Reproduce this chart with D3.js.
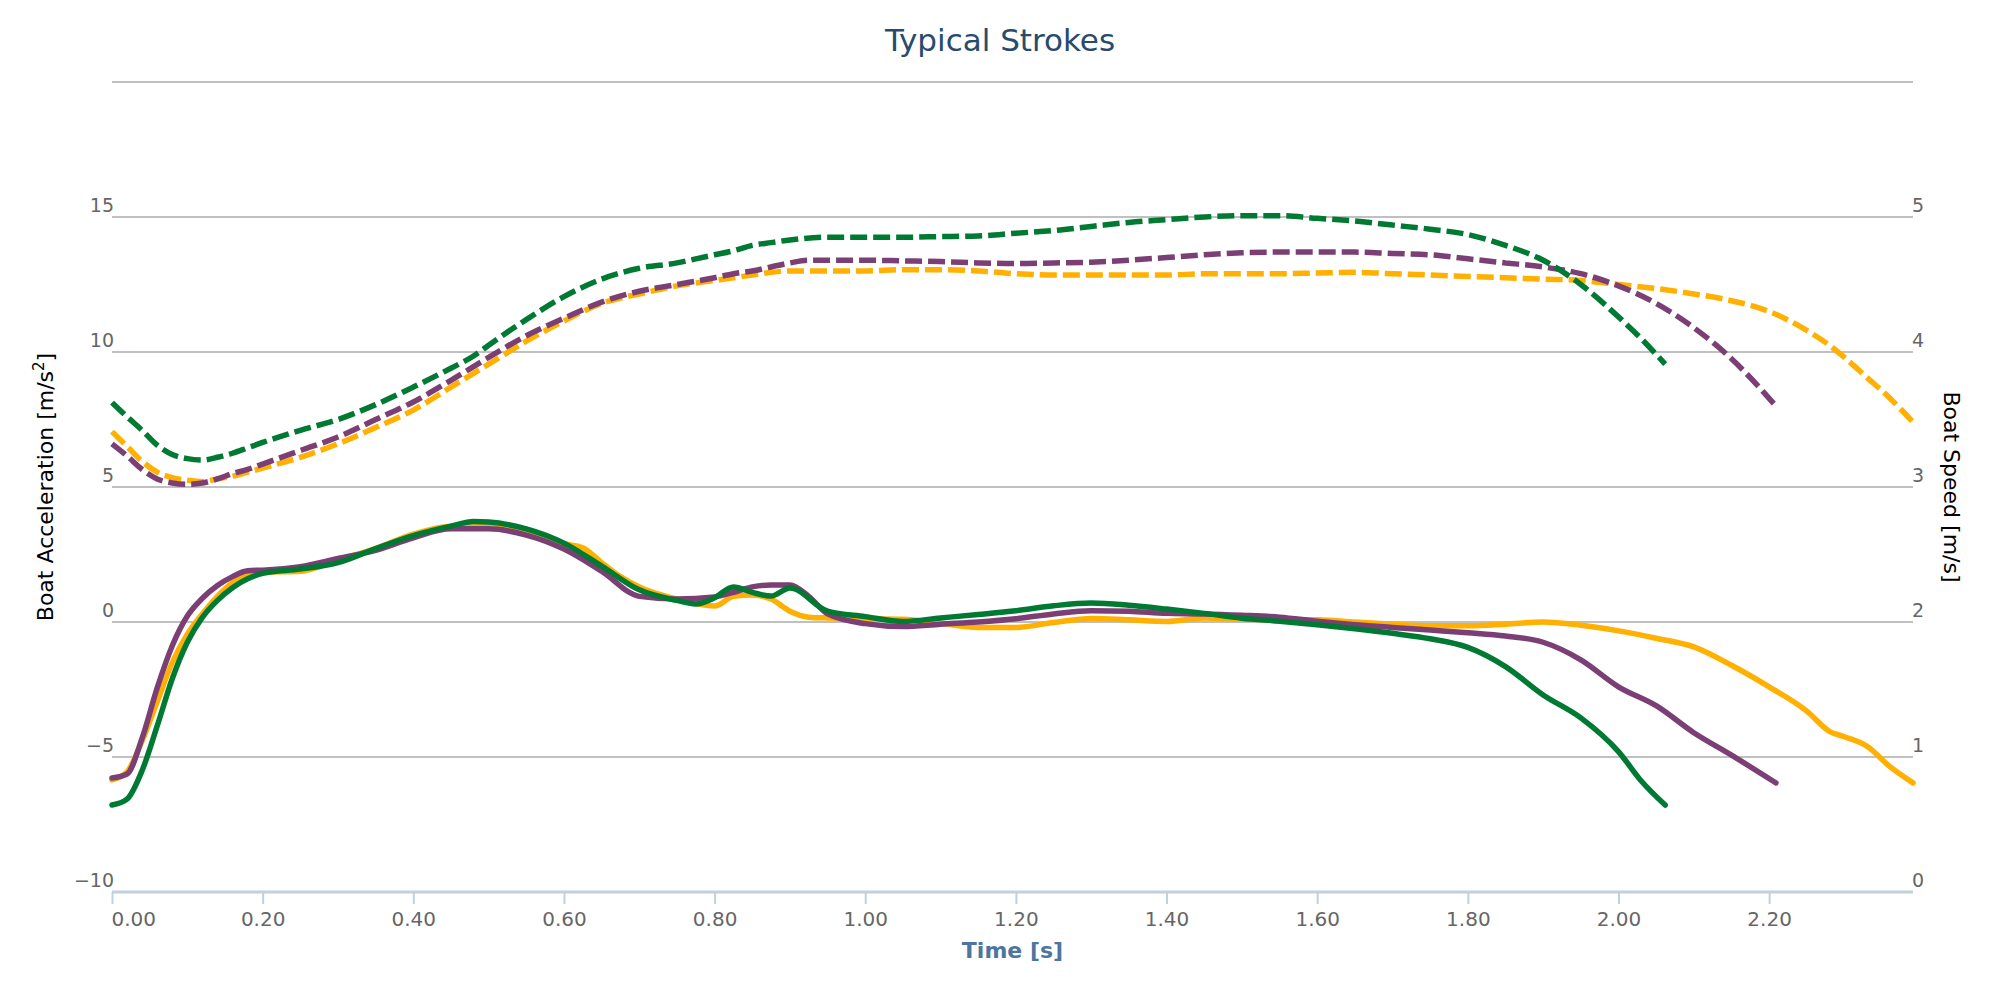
<!DOCTYPE html>
<html>
<head>
<meta charset="utf-8">
<script src="https://cdn.jsdelivr.net/npm/d3@7"></script>
<style>
  html, body { margin: 0; padding: 0; background: #fff; }
  svg { display: block; font-family: "DejaVu Sans", Verdana, sans-serif; }
</style>
</head>
<body>
<svg id="chart" width="2000" height="1000"></svg>
<script>
// ---------------- DATA ----------------
const chartTitle = "Typical Strokes";
const xTickValues = [0, 0.2, 0.4, 0.6, 0.8, 1.0, 1.2, 1.4, 1.6, 1.8, 2.0, 2.2];
const accTickValues = [-10, -5, 0, 5, 10, 15];
const speedTickValues = [0, 1, 2, 3, 4, 5];

// Green stroke
const greenTime = [0,0.02,0.04,0.06,0.08,0.10,0.12,0.14,0.16,0.18,0.20,0.25,0.30,0.35,0.40,0.45,0.48,0.50,0.55,0.60,0.65,0.70,0.75,0.775,0.80,0.825,0.85,0.875,0.90,0.95,1.00,1.05,1.10,1.15,1.20,1.25,1.30,1.35,1.40,1.45,1.50,1.55,1.60,1.65,1.70,1.75,1.80,1.85,1.90,1.95,2.00,2.03,2.062];
const greenAcc = [-6.78,-6.56,-5.5,-3.85,-2.1,-0.75,0.17,0.8,1.27,1.6,1.8,1.96,2.2,2.72,3.2,3.55,3.72,3.7,3.45,2.92,2.07,1.19,0.8,0.67,0.9,1.3,1.1,0.96,1.26,0.4,0.2,0.02,0.15,0.28,0.42,0.6,0.7,0.62,0.48,0.32,0.14,0.03,-0.1,-0.25,-0.42,-0.62,-0.94,-1.65,-2.7,-3.55,-4.8,-5.88,-6.78];
const greenSpeed = [3.625,3.52,3.42,3.31,3.24,3.21,3.2,3.22,3.25,3.29,3.33,3.42,3.5,3.61,3.74,3.88,3.97,4.05,4.24,4.41,4.54,4.62,4.66,4.69,4.72,4.75,4.79,4.81,4.83,4.85,4.85,4.85,4.855,4.86,4.88,4.9,4.93,4.96,4.98,5.0,5.01,5.01,4.99,4.97,4.94,4.91,4.87,4.79,4.68,4.5,4.26,4.1,3.91];

// Purple stroke
const purpleTime = [0,0.02,0.04,0.06,0.08,0.10,0.12,0.14,0.16,0.18,0.20,0.25,0.30,0.35,0.40,0.45,0.50,0.55,0.60,0.65,0.70,0.75,0.80,0.825,0.85,0.875,0.90,0.925,0.95,1.00,1.05,1.10,1.15,1.20,1.25,1.30,1.35,1.40,1.45,1.50,1.55,1.60,1.65,1.70,1.75,1.80,1.85,1.90,1.95,2.00,2.05,2.10,2.15,2.209];
const purpleAcc = [-5.78,-5.63,-4.3,-2.44,-0.88,0.22,0.88,1.35,1.68,1.9,1.92,2.05,2.35,2.65,3.12,3.45,3.45,3.22,2.7,1.88,0.95,0.85,0.93,1.1,1.3,1.37,1.37,0.95,0.3,-0.06,-0.17,-0.08,0.0,0.12,0.3,0.42,0.4,0.32,0.3,0.25,0.18,0.03,-0.1,-0.2,-0.3,-0.4,-0.52,-0.75,-1.4,-2.4,-3.1,-4.1,-4.93,-5.96];
const purpleSpeed = [3.32,3.23,3.13,3.06,3.03,3.02,3.03,3.06,3.1,3.13,3.17,3.27,3.37,3.5,3.63,3.79,3.96,4.12,4.25,4.37,4.45,4.5,4.55,4.58,4.6,4.63,4.66,4.68,4.68,4.68,4.675,4.67,4.66,4.655,4.66,4.665,4.68,4.7,4.72,4.735,4.74,4.74,4.74,4.73,4.72,4.69,4.66,4.63,4.58,4.49,4.36,4.18,3.95,3.6];

// Orange stroke
const orangeTime = [0,0.02,0.04,0.06,0.08,0.10,0.12,0.14,0.16,0.18,0.20,0.25,0.30,0.35,0.40,0.45,0.50,0.55,0.60,0.625,0.65,0.675,0.70,0.75,0.80,0.825,0.85,0.875,0.90,0.925,0.95,1.00,1.05,1.10,1.15,1.20,1.25,1.30,1.35,1.40,1.45,1.50,1.55,1.60,1.65,1.70,1.75,1.80,1.85,1.90,1.95,2.00,2.05,2.10,2.15,2.20,2.25,2.28,2.30,2.33,2.36,2.391];
const orangeAcc = [-5.85,-5.55,-4.4,-2.95,-1.5,-0.45,0.3,0.95,1.45,1.76,1.84,1.88,2.3,2.72,3.25,3.55,3.55,3.3,2.9,2.75,2.2,1.68,1.3,0.85,0.59,0.95,1.0,0.85,0.4,0.18,0.15,0.13,0.1,-0.05,-0.2,-0.2,-0.02,0.13,0.08,0.02,0.15,0.1,0.09,0.08,0.0,-0.08,-0.14,-0.14,-0.08,0.0,-0.12,-0.33,-0.6,-0.92,-1.6,-2.4,-3.3,-4.05,-4.25,-4.6,-5.35,-5.96];
const orangeSpeed = [3.41,3.3,3.19,3.11,3.07,3.05,3.04,3.06,3.08,3.11,3.14,3.22,3.32,3.44,3.57,3.74,3.91,4.08,4.23,4.3,4.36,4.4,4.43,4.49,4.53,4.55,4.57,4.59,4.6,4.6,4.6,4.6,4.61,4.61,4.6,4.58,4.57,4.57,4.57,4.57,4.58,4.58,4.58,4.585,4.59,4.58,4.57,4.56,4.55,4.54,4.53,4.5,4.47,4.43,4.38,4.3,4.16,4.05,3.96,3.81,3.66,3.48];

// ---------------- CHART ----------------
const plot = { left: 112, right: 1913, top: 82, bottom: 892 };

const svg = d3.select("#chart");

const x = d3.scaleLinear().domain([0, 2.391]).range([plot.left, plot.right]);
const yAcc = d3.scaleLinear().domain([-10, 20]).range([plot.bottom, plot.top]);
const ySpeed = d3.scaleLinear().domain([0, 6]).range([plot.bottom, plot.top]);

const tickColor = "#666666";
const gridColor = "#c0c0c0";
const axisLineColor = "#c0d0e0";

// Title
svg.append("text")
  .attr("x", 1000).attr("y", 51)
  .attr("text-anchor", "middle")
  .attr("font-size", 31)
  .attr("fill", "#274b6d")
  .text(chartTitle);

// Grid lines (acc -5..20)
svg.append("g").selectAll("line")
  .data([-5, 0, 5, 10, 15, 20])
  .join("line")
  .attr("x1", plot.left).attr("x2", plot.right)
  .attr("y1", d => yAcc(d)).attr("y2", d => yAcc(d))
  .attr("stroke", gridColor).attr("stroke-width", 2);

// Left axis labels
const fmtMinus = v => (v < 0 ? "\u2212" + Math.abs(v) : String(v));
const leftAxis = d3.axisLeft(yAcc).tickValues(accTickValues).tickSize(0).tickPadding(0).tickFormat(fmtMinus);
const leftG = svg.append("g").attr("transform", `translate(${plot.left + 2},0)`).call(leftAxis);
leftG.select(".domain").remove();
leftG.selectAll("text")
  .attr("font-size", 19).attr("fill", tickColor)
  .attr("font-family", "DejaVu Sans")
  .attr("dy", "-0.3em");

// Right axis labels
const rightAxis = d3.axisRight(ySpeed).tickValues(speedTickValues).tickSize(0).tickPadding(0).tickFormat(d3.format("d"));
const rightG = svg.append("g").attr("transform", `translate(${plot.right - 1},0)`).call(rightAxis);
rightG.select(".domain").remove();
rightG.selectAll("text")
  .attr("font-size", 19).attr("fill", tickColor)
  .attr("font-family", "DejaVu Sans")
  .attr("dy", "-0.3em");

// X axis
const xAxis = d3.axisBottom(x).tickValues(xTickValues).tickSize(12).tickPadding(8).tickFormat(d3.format(".2f"));
const xG = svg.append("g").attr("transform", `translate(0,${plot.bottom})`).call(xAxis);
xG.select(".domain")
  .attr("d", `M${plot.left},0H${plot.right}`)
  .attr("stroke", axisLineColor).attr("stroke-width", 3);
xG.selectAll(".tick line").attr("stroke", axisLineColor).attr("stroke-width", 2);
xG.selectAll("text")
  .attr("font-size", 20).attr("fill", tickColor)
  .attr("font-family", "DejaVu Sans");
xG.selectAll(".tick").filter(d => d === 0).select("text").attr("text-anchor", "start").attr("x", -1);

// Axis titles
const leftTitle = svg.append("text")
  .attr("transform", `translate(45,${(plot.top + plot.bottom) / 2}) rotate(-90)`)
  .attr("text-anchor", "middle")
  .attr("dy", "0.35em")
  .attr("font-size", 22)
  .attr("fill", "#000");
leftTitle.append("tspan").text("Boat Acceleration [m/s");
leftTitle.append("tspan").attr("font-size", 15).attr("dy", "-0.6em").text("2");
leftTitle.append("tspan").attr("dy", "0.4em").text("]");

svg.append("text")
  .attr("transform", `translate(1952,${(plot.top + plot.bottom) / 2}) rotate(90)`)
  .attr("text-anchor", "middle")
  .attr("dy", "0.35em")
  .attr("font-size", 22)
  .attr("fill", "#000")
  .text("Boat Speed [m/s]");

svg.append("text")
  .attr("x", (plot.left + plot.right) / 2).attr("y", 958)
  .attr("text-anchor", "middle")
  .attr("font-size", 22)
  .attr("font-weight", "bold")
  .attr("fill", "#4d759e")
  .text("Time [s]");

// Series
const colors = { orange: "#FFB000", purple: "#7B3F75", green: "#007A33" };
const series = [
  { name: "orange", time: orangeTime, acc: orangeAcc, speed: orangeSpeed },
  { name: "purple", time: purpleTime, acc: purpleAcc, speed: purpleSpeed },
  { name: "green", time: greenTime, acc: greenAcc, speed: greenSpeed }
];

const lineAcc = d3.line().x(d => x(d[0])).y(d => yAcc(d[1])).curve(d3.curveMonotoneX);
const lineSpeed = d3.line().x(d => x(d[0])).y(d => ySpeed(d[1])).curve(d3.curveMonotoneX);

const seriesG = svg.append("g");
series.forEach(s => {
  const ptsS = s.time.map((t, i) => [t, s.speed[i]]);
  seriesG.append("path")
    .attr("d", lineSpeed(ptsS))
    .attr("fill", "none")
    .attr("stroke", colors[s.name])
    .attr("stroke-width", 5.5)
    .attr("stroke-dasharray", "17,6")
    .attr("stroke-linejoin", "round");
});
series.forEach(s => {
  const ptsA = s.time.map((t, i) => [t, s.acc[i]]);
  seriesG.append("path")
    .attr("d", lineAcc(ptsA))
    .attr("fill", "none")
    .attr("stroke", colors[s.name])
    .attr("stroke-width", 5.5)
    .attr("stroke-linejoin", "round")
    .attr("stroke-linecap", "round");
});
</script>
</body>
</html>
